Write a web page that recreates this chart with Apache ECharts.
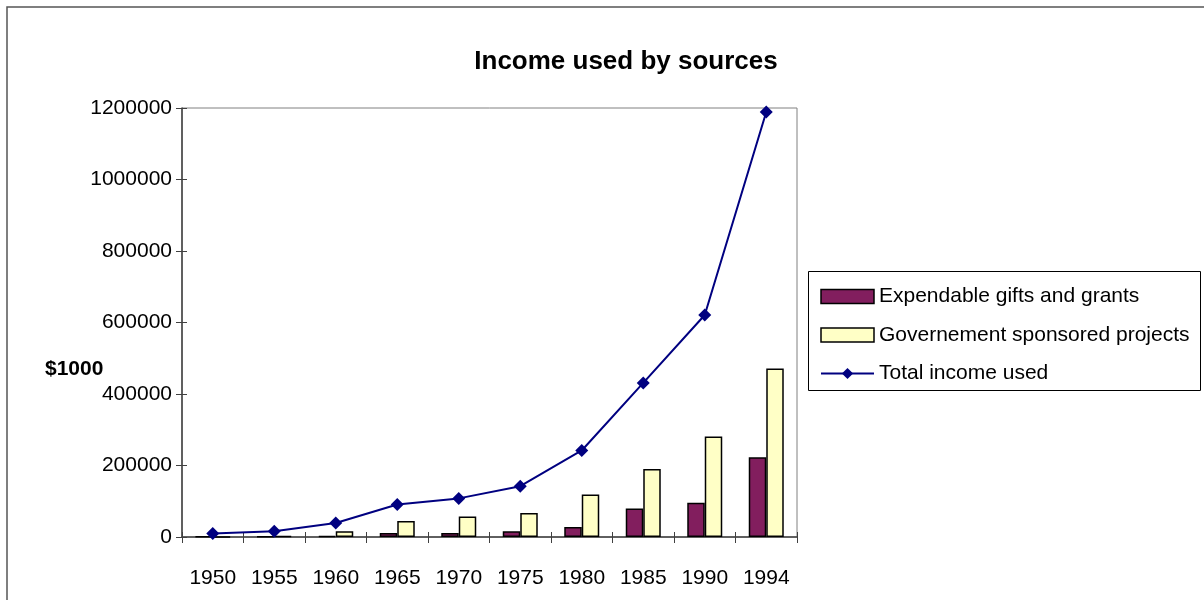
<!DOCTYPE html>
<html>
<head>
<meta charset="utf-8">
<script src="https://cdn.jsdelivr.net/npm/echarts@6/dist/echarts.min.js"></script>
<style>
html,body{margin:0;padding:0;background:#fff;}
#c{width:1204px;height:600px;}
</style>
</head>
<body>
<div id="c"></div>
<script>
const categories = ['1950','1955','1960','1965','1970','1975','1980','1985','1990','1994'];
const giftsGrants = [1000, 1500, 3000, 11000, 11000, 16000, 28000, 80000, 96000, 223000];
const govProjects = [500, 3000, 16000, 45000, 57000, 67000, 119000, 190000, 281000, 471000];
const totalIncome = [9500, 16000, 39000, 91000, 108000, 142000, 242000, 431000, 621000, 1189000];
const yTicks = { min: 0, max: 1200000, interval: 200000 };

const chart = echarts.init(document.getElementById('c'));
const F = 'Arial, "Liberation Sans", sans-serif';
const grid = { left: 182, right: 407, top: 108, bottom: 63, show: true, borderColor: '#808080', borderWidth: 1, backgroundColor: 'transparent' };
chart.setOption({
  animation: false,
  backgroundColor: '#fff',
  title: {
    text: 'Income used by sources', left: 621, top: 44, textAlign: 'center',
    textStyle: { fontFamily: F, fontSize: 26, fontWeight: 'bold', color: '#000' }
  },
  graphic: [
    { type: 'rect', shape: { x: 7, y: 7, width: 1210, height: 610 }, style: { fill: 'none', stroke: '#555', lineWidth: 1.5 }, silent: true },
    { type: 'rect', shape: { x: 808.5, y: 271.5, width: 392, height: 119 }, style: { fill: '#fff', stroke: '#000', lineWidth: 1 }, z: 0, silent: true },
    { type: 'text', left: 45, top: 359, style: { text: '$1000', font: 'bold 21px ' + F, fill: '#000' } }
  ],
  legend: {
    orient: 'vertical', left: 815, top: 281, itemWidth: 53, itemHeight: 14, itemGap: 17.5,
    textStyle: { fontFamily: F, fontSize: 21, lineHeight: 21, color: '#000', padding: [0, 0, 0, 0] },
    data: [
      { name: 'Expendable gifts and grants', icon: 'rect', itemStyle: { color: '#821E5E', borderColor: '#000', borderWidth: 1.5 } },
      { name: 'Governement sponsored projects', icon: 'rect', itemStyle: { color: '#FFFFC6', borderColor: '#000', borderWidth: 1.5 } },
      { name: 'Total income used' }
    ]
  },
  grid: grid,
  xAxis: [
    {
      type: 'category', data: categories, boundaryGap: true,
      axisLine: { lineStyle: { color: '#404040', width: 1.5 } },
      axisTick: { show: true, inside: false, length: 6, lineStyle: { color: '#404040' } },
      axisLabel: { fontFamily: F, fontSize: 21, color: '#000', margin: 31 }
    },
    {
      type: 'category', data: categories, boundaryGap: true, position: 'bottom',
      axisLine: { show: false },
      axisTick: { show: true, inside: true, length: 5, lineStyle: { color: '#404040' } },
      axisLabel: { show: false }
    }
  ],
  yAxis: [
    {
      type: 'value', min: yTicks.min, max: yTicks.max, interval: yTicks.interval,
      splitLine: { show: false },
      axisLine: { show: true, lineStyle: { color: '#404040', width: 1.5 } },
      axisTick: { show: true, inside: false, length: 6, lineStyle: { color: '#404040' } },
      axisLabel: { fontFamily: F, fontSize: 21, color: '#000', margin: 10, formatter: v => String(v) }
    },
    {
      type: 'value', min: yTicks.min, max: yTicks.max, interval: yTicks.interval, position: 'left',
      splitLine: { show: false },
      axisLine: { show: false },
      axisTick: { show: true, inside: true, length: 5, lineStyle: { color: '#404040' } },
      axisLabel: { show: false }
    }
  ],
  series: [
    {
      name: 'Expendable gifts and grants', type: 'bar', data: giftsGrants,
      barWidth: 17.5, barGap: '0%',
      itemStyle: { color: '#821E5E', borderColor: '#000', borderWidth: 1.5 }
    },
    {
      name: 'Governement sponsored projects', type: 'bar', data: govProjects,
      barWidth: 17.5, barGap: '0%',
      itemStyle: { color: '#FFFFC6', borderColor: '#000', borderWidth: 1.5 }
    },
    {
      name: 'Total income used', type: 'line', data: totalIncome,
      symbol: 'diamond', symbolSize: 13, z: 5,
      lineStyle: { color: '#000080', width: 2 },
      itemStyle: { color: '#000080' }
    }
  ]
});
</script>
</body>
</html>
